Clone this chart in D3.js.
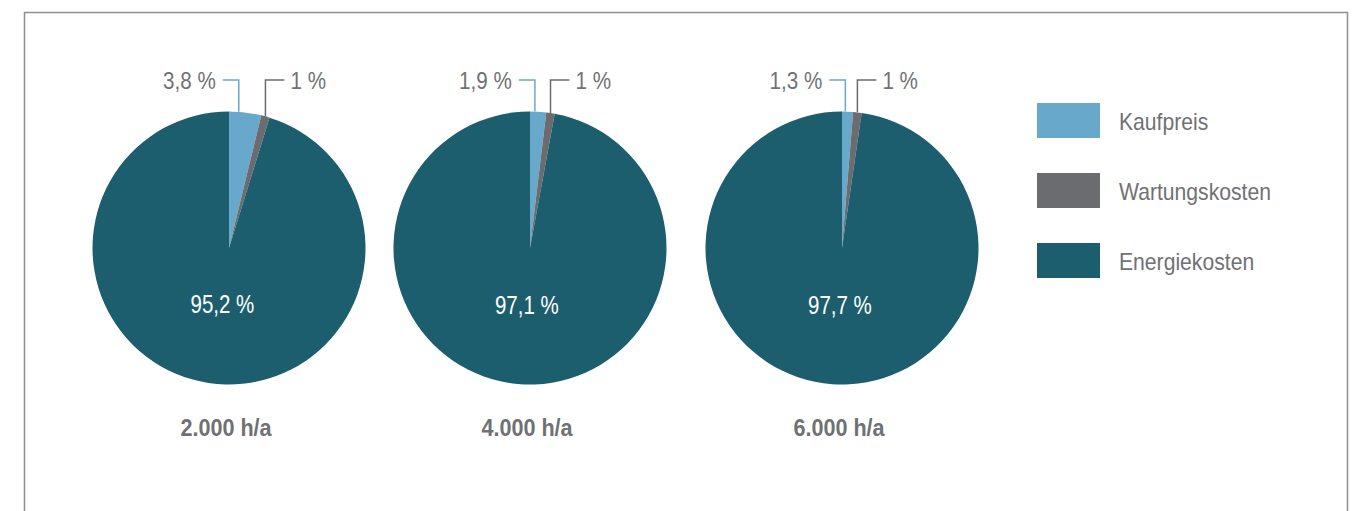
<!DOCTYPE html>
<html>
<head>
<meta charset="utf-8">
<script src="https://cdn.jsdelivr.net/npm/d3@7"></script>
<style>
  body { margin: 0; background: #fff; }
  svg text { font-family: "Liberation Sans", Arial, sans-serif; }
</style>
</head>
<body>
<div id="chart"></div>
<script>
// data
const hours = ["2.000 h/a", "4.000 h/a", "6.000 h/a"];
const categories = ["Kaufpreis", "Wartungskosten", "Energiekosten"];
const kaufpreis = [3.8, 1.9, 1.3];
const wartung = [1, 1, 1];
const energie = [95.2, 97.1, 97.7];

const colors = ["#68a9cb", "#6b6c70", "#1d5e6e"];
const textGray = "#707174";

const width = 1354, height = 511;
const svg = d3.select("#chart")
  .append("svg")
  .attr("width", width)
  .attr("height", height);

// frame (open at the bottom)
svg.append("path")
  .attr("d", "M24.5,511V12.5H1347.5V511")
  .attr("fill", "none")
  .attr("stroke", "#8f8f8f")
  .attr("stroke-width", 1.5);

const fmt = d3.formatLocale({decimal: ",", thousands: ".", grouping: [3], currency: ["", "€"]}).format(".1~f");

// condensed text: no narrow font installed, so squeeze Liberation Sans
function narrowText(parent, x, y, str, size, sx) {
  return parent.append("text")
    .attr("transform", `translate(${x},${y}) scale(${sx},1)`)
    .attr("dy", "0.35em")
    .style("font-size", size + "px")
    .text(str);
}

// layout of the three pies
const centersX = [229, 530, 842];
const cy = 248;
const radius = 136.5;
const leaderY = 80;

const pie = d3.pie().sort(null).value(d => d.value);
const arc = d3.arc().innerRadius(0).outerRadius(radius);
const labelArc = d3.arc().innerRadius(57).outerRadius(57);

hours.forEach((h, i) => {
  const values = [kaufpreis[i], wartung[i], energie[i]].map((v, k) => ({key: categories[k], value: v}));
  const arcs = pie(values);
  const g = svg.append("g").attr("transform", `translate(${centersX[i]},${cy})`);

  g.selectAll("path.slice")
    .data(arcs)
    .enter()
    .append("path")
    .attr("class", "slice")
    .attr("d", arc)
    .attr("fill", (d, k) => colors[k]);

  // inner label for the large slice
  const big = arcs[2];
  const c = labelArc.centroid(big);
  narrowText(g, c[0] + 2, c[1], fmt(big.value) + " %", 25, 0.82)
    .attr("text-anchor", "middle")
    .attr("fill", "#fff");

  // leader lines for the small slices
  arcs.slice(0, 2).forEach((d, k) => {
    const a = k === 0 ? d.startAngle + 0.3 * (d.endAngle - d.startAngle) : (d.startAngle + d.endAngle) / 2;
    const x0 = radius * Math.sin(a);
    const y0 = -radius * Math.cos(a);
    const yl = leaderY - cy;
    const x1 = k === 0 ? x0 - 16 : x0 + 19;
    g.append("path")
      .attr("d", `M${x0},${y0}V${yl}H${x1}`)
      .attr("fill", "none")
      .attr("stroke", colors[k])
      .attr("stroke-width", 1.5);
    narrowText(g, k === 0 ? x1 - 7 : x1 + 6, yl + 1, fmt(d.value) + " %", 24, 0.86)
      .attr("text-anchor", k === 0 ? "end" : "start")
      .attr("fill", textGray);
  });

  // hours label under the pie
  narrowText(svg, centersX[i] - 3, 428, h, 24, 0.9)
    .attr("text-anchor", "middle")
    .attr("fill", textGray)
    .style("font-weight", "bold");
});

// legend
const legend = svg.append("g").attr("transform", "translate(1037,103)");
categories.forEach((cat, k) => {
  legend.append("rect")
    .attr("x", 0)
    .attr("y", k * 70)
    .attr("width", 63)
    .attr("height", 35)
    .attr("fill", colors[k]);
  narrowText(legend, 82, k * 70 + 19, cat, 23, 0.92)
    .attr("fill", textGray);
});
</script>
</body>
</html>
